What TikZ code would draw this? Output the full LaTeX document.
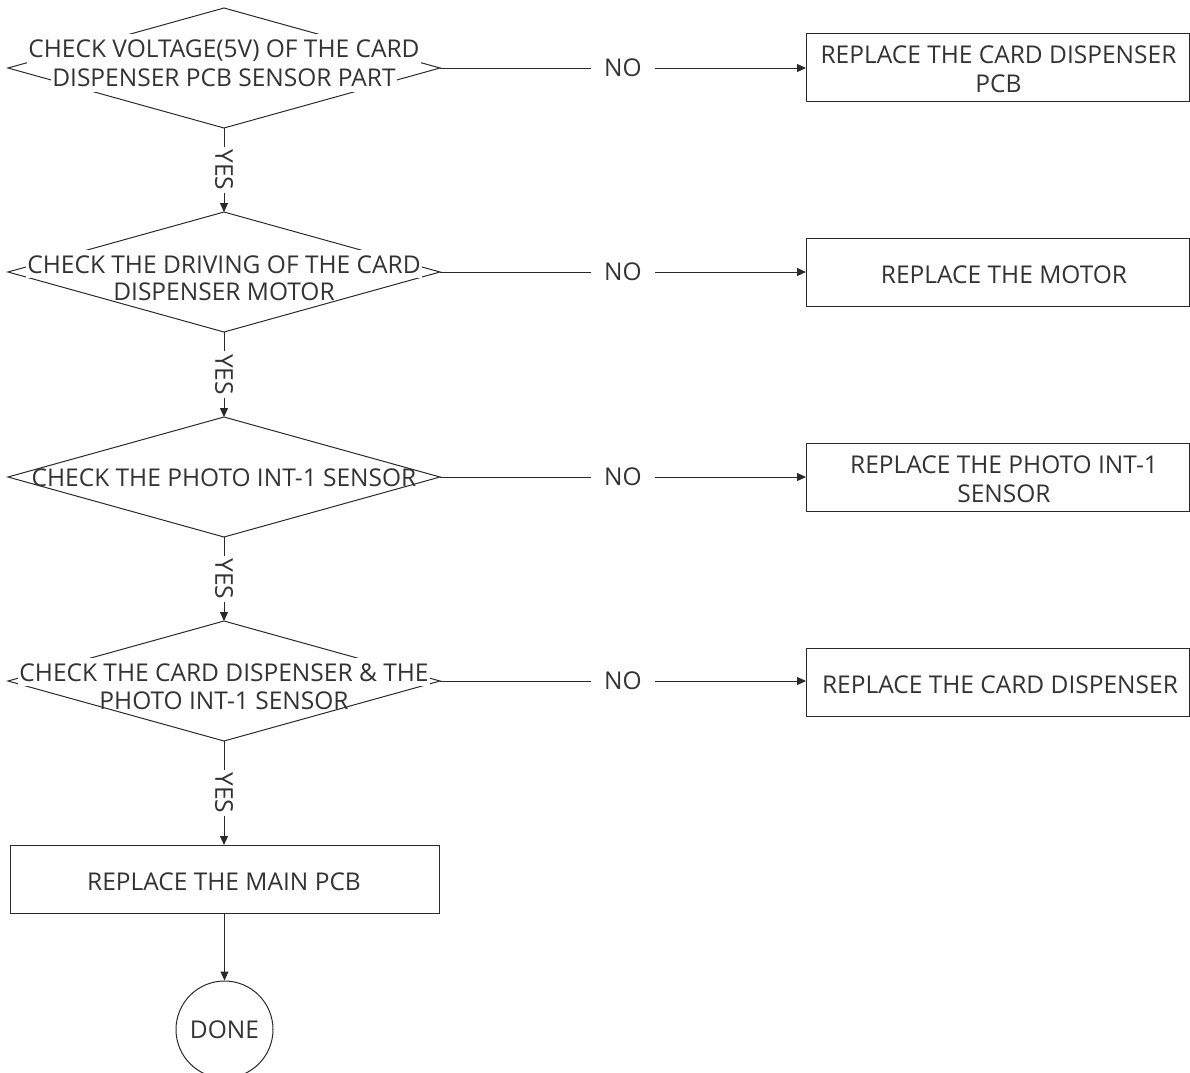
\documentclass[tikz,border=0pt]{standalone}
\usepackage{fontspec}
\setmainfont{Open Sans}
\usetikzlibrary{shapes.geometric,arrows.meta}
\definecolor{ln}{HTML}{2A2A2A}
\definecolor{tx}{HTML}{333333}
\begin{document}
\begin{tikzpicture}[x=1pt,y=-1pt,
  every node/.style={font=\fontsize{24.5}{29}\selectfont, text=tx},
  dia/.style={draw=ln, line width=1pt, shape=diamond, minimum width=432pt, minimum height=120pt, inner sep=0pt, outer sep=0pt},
  txtline/.style={anchor=base, inner xsep=1pt, inner ysep=5pt},
  wline/.style={txtline, fill=white},
  rbox/.style={draw=ln, line width=1pt, minimum width=383pt, minimum height=68pt, inner sep=0pt, outer sep=0pt},
  conn/.style={draw=ln, line width=1pt, -{Triangle[length=9pt,width=8pt]}},
  nolab/.style={fill=white, inner xsep=13pt, inner ysep=2pt},
  yeslab/.style={fill=white, rotate=-90, inner xsep=3pt, inner ysep=1pt}
]
\useasboundingbox (0,0) rectangle (1190,1072);
% decisions
\node[dia] (d1) at (224,68) {};
\node[dia] (d2) at (224,272) {};
\node[dia] (d3) at (224,477) {};
\node[dia] (d4) at (224,681) {};
% decision texts
\node[wline] (t1a) at (224,57) {CHECK VOLTAGE(5V) OF THE CARD};
\node[wline] (t1b) at (224,86.5) {DISPENSER PCB SENSOR PART};
\node[wline] (t2a) at (224,273) {CHECK THE DRIVING OF THE CARD};
\node[txtline] (t2b) at (224,300.5) {DISPENSER MOTOR};
\node[txtline] (t3a) at (224,486) {CHECK THE PHOTO INT-1 SENSOR};
\node[wline] (t4a) at (224,681) {CHECK THE CARD DISPENSER \& THE};
\node[txtline] (t4b) at (224,709.5) {PHOTO INT-1 SENSOR};
% right boxes
\node[rbox] (r1) at (997.5,67.5) {};
\node[rbox] (r2) at (997.5,272) {};
\node[rbox] (r3) at (997.5,477.5) {};
\node[rbox] (r4) at (997.5,682) {};
\node[txtline] (s1a) at (998.5,63) {REPLACE THE CARD DISPENSER};
\node[txtline] (s1b) at (998.5,92) {PCB};
\node[txtline] (s2a) at (1004,283) {REPLACE THE MOTOR};
\node[txtline] (s3a) at (1004,473) {REPLACE THE PHOTO INT-1};
\node[txtline] (s3b) at (1004,502) {SENSOR};
\node[txtline] (s4a) at (1000,693) {REPLACE THE CARD DISPENSER};
% main pcb and done
\node[rbox, minimum width=429pt] (m) at (224.5,879) {};
\node[txtline] (ma) at (224,890) {REPLACE THE MAIN PCB};
\node[draw=ln, line width=1pt, circle, minimum size=97pt, inner sep=0pt] (done) at (224.5,1029.5) {DONE};
% connectors
\draw[conn] (d1.east) -- node[nolab] {NO} (r1.west |- d1.east);
\draw[conn] (d2.east) -- node[nolab] {NO} (r2.west);
\draw[conn] (d3.east) -- node[nolab] {NO} (r3.west |- d3.east);
\draw[conn] (d4.east) -- node[nolab] {NO} (r4.west |- d4.east);
\draw[conn] (d1.south) -- node[yeslab] {YES} (d2.north);
\draw[conn] (d2.south) -- node[yeslab] {YES} (d3.north);
\draw[conn] (d3.south) -- node[yeslab] {YES} (d4.north);
\draw[conn] (d4.south) -- node[yeslab] {YES} (m.north -| d4.south);
\draw[conn] (m.south -| done.north) -- (done.north);
\end{tikzpicture}
\end{document}
